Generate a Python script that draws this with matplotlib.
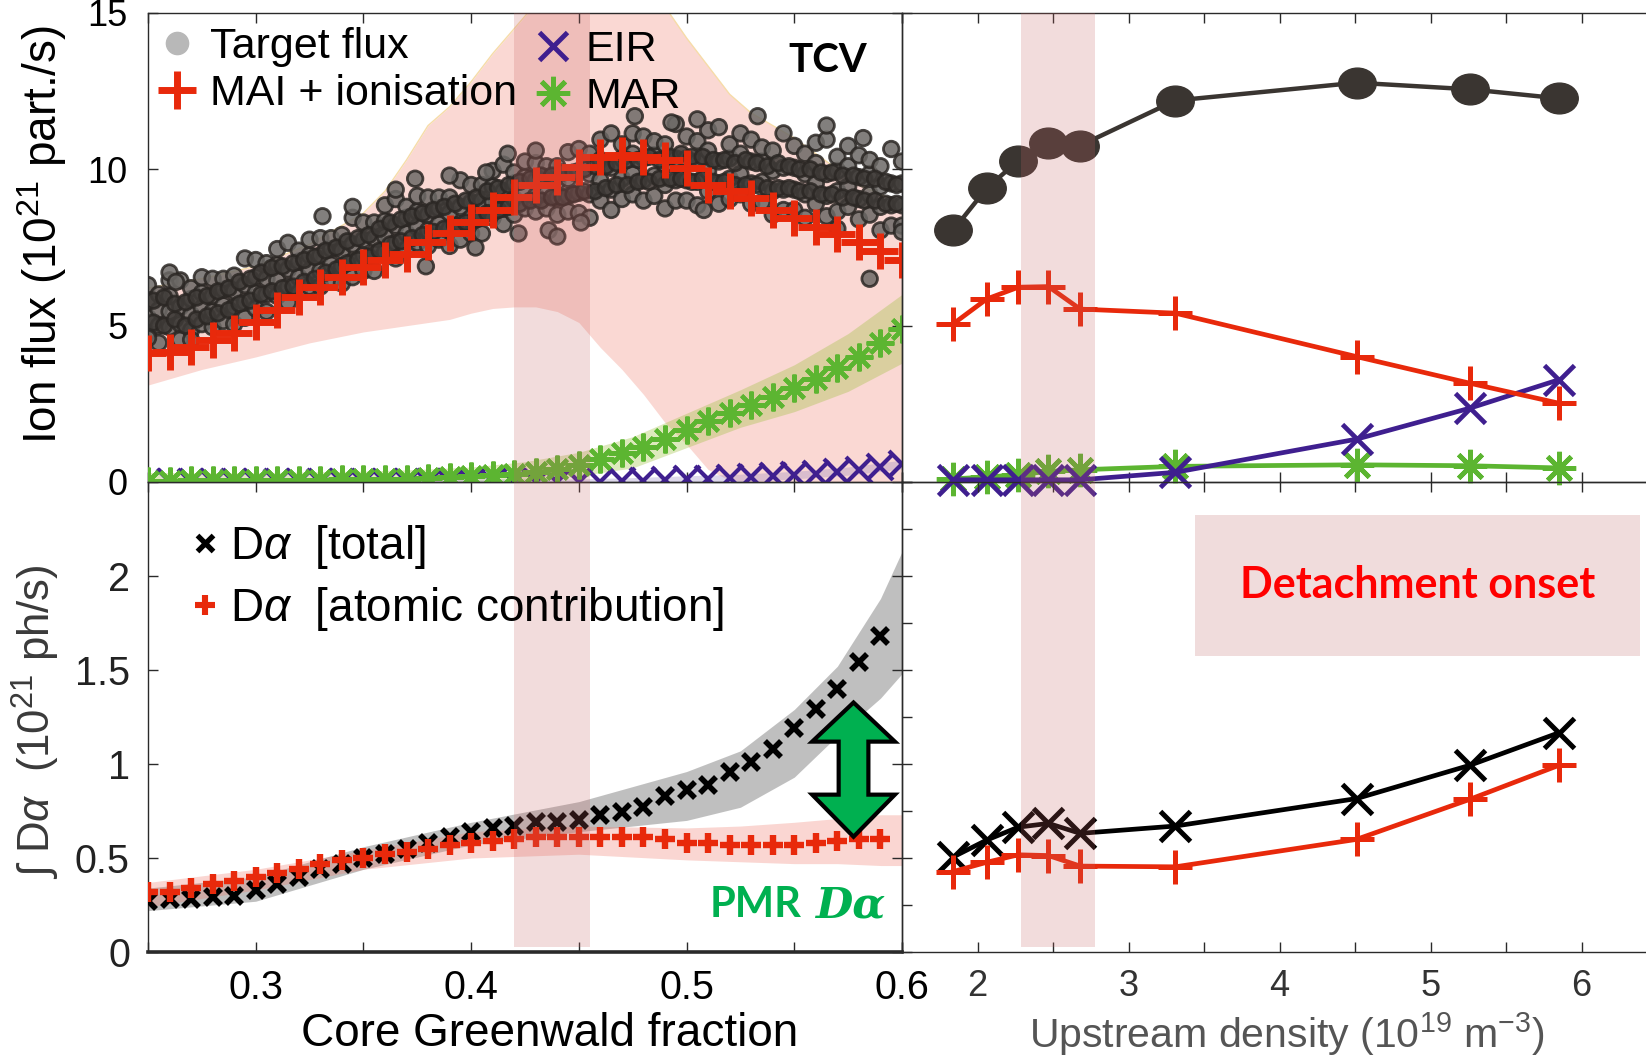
import numpy as np
import matplotlib
matplotlib.use("Agg")
import matplotlib.pyplot as plt
from matplotlib.lines import Line2D
from matplotlib.patches import Polygon, Rectangle
from matplotlib.path import Path
from matplotlib.transforms import Affine2D

plt.rcParams['font.family'] = ['Liberation Sans', 'DejaVu Sans']
plt.rcParams['mathtext.fontset'] = 'custom'
plt.rcParams['mathtext.rm'] = 'Liberation Sans'
plt.rcParams['mathtext.it'] = 'Liberation Sans:italic'
plt.rcParams['mathtext.bf'] = 'Liberation Sans:bold'

# ===== Colores =====
RED = '#e8290b'
PURPLE = '#3f1f8f'
GREEN = '#5cb531'
DARK = '#3a3531'
PMR_GREEN = '#00b050'
BAND = '#c86464'

# ===== Izquierda: barrido en fraccion de Greenwald =====
fgw = np.round(np.arange(0.25, 0.6001, 0.01), 2)

mai_ion = [4.12, 4.17, 4.33, 4.55, 4.76, 5.13, 5.5, 5.93, 6.25, 6.57,
           6.89, 7.1, 7.3, 7.69, 7.96, 8.33, 8.7, 9.13, 9.5, 9.77,
           10.08, 10.4, 10.46, 10.4, 10.3, 10.05, 9.5, 9.3, 9.07, 8.7,
           8.45, 8.17, 7.93, 7.68, 7.4, 7.1]
eir = [0, 0, 0, 0, 0, 0, 0, 0, 0, 0,
       0, 0, 0, 0, 0, 0, 0, 0, 0, 0,
       0, 0, 0.02, 0.04, 0.06, 0.08, 0.1, 0.12, 0.15, 0.18,
       0.22, 0.27, 0.32, 0.39, 0.47, 0.56]
mar = [0.04, 0.04, 0.05, 0.05, 0.05, 0.06, 0.06, 0.07, 0.07, 0.08,
       0.09, 0.10, 0.11, 0.13, 0.15, 0.18, 0.22, 0.27, 0.33, 0.42,
       0.55, 0.72, 0.92, 1.12, 1.38, 1.65, 1.95, 2.2, 2.45, 2.72,
       3.0, 3.3, 3.65, 4.0, 4.45, 4.9]

# banda de incertidumbre MAI + ionisation
mai_band_x = [0.25, 0.275, 0.30, 0.325, 0.35, 0.36, 0.37, 0.38, 0.39, 0.40,
              0.41, 0.42, 0.43, 0.44, 0.45, 0.46, 0.47, 0.48, 0.49, 0.50,
              0.51, 0.52, 0.53, 0.54, 0.55, 0.56, 0.57, 0.58, 0.59, 0.60]
mai_lo = [3.1, 3.6, 4.0, 4.45, 4.8, 4.9, 5.0, 5.1, 5.2, 5.4,
          5.55, 5.6, 5.6, 5.45, 5.1, 4.3, 3.6, 2.8, 1.9, 1.2,
          0.4, 0.05, 0, 0, 0, 0, 0, 0, 0, 0]
mai_hi = [6.2, 6.5, 6.9, 7.6, 8.6, 9.3, 10.3, 11.4, 12.0, 12.8,
          13.7, 14.5, 15.3, 16, 16, 16, 16, 16, 15.2, 14.2,
          13.3, 12.4, 11.8, 11.4, 11.0, 10.5, 10.0, 9.5, 9.2, 8.9]

band_x = [0.25, 0.275, 0.30, 0.325, 0.35, 0.375, 0.40, 0.425,
          0.45, 0.475, 0.50, 0.525, 0.55, 0.575, 0.60]
mar_lo = [-0.2, -0.2, -0.2, -0.2, -0.15, -0.1, -0.05, 0.0,
          0.2, 0.45, 1.1, 1.75, 2.25, 2.9, 3.8]
mar_hi = [0.3, 0.3, 0.3, 0.32, 0.35, 0.4, 0.48, 0.65,
          0.95, 1.45, 2.2, 2.95, 3.75, 4.75, 6.0]
eir_lo = [-0.1, -0.1, -0.1, -0.1, -0.1, -0.1, -0.1, -0.1,
          -0.1, -0.08, -0.04, 0.01, 0.1, 0.22, 0.42]
eir_hi = [0.1, 0.1, 0.1, 0.1, 0.1, 0.1, 0.1, 0.1,
          0.1, 0.14, 0.2, 0.25, 0.34, 0.48, 0.7]

# flujo al blanco (nube de puntos): 4 puntos por columna
fgw_cloud = np.round(np.arange(0.25, 0.6001, 0.005), 4)
target_flux = [
    (4.75, 5.25, 5.75, 6.3), (4.45, 5.0, 5.5, 6.0), (4.95, 5.45, 5.95, 6.45),
    (4.55, 5.05, 5.6, 6.45), (4.85, 5.35, 5.85, 6.2), (5.05, 5.55, 6.05, 6.55),
    (4.95, 5.45, 5.95, 6.5), (5.15, 5.65, 6.15, 6.5), (5.05, 5.6, 6.1, 6.6),
    (5.25, 5.75, 6.3, 7.15), (5.55, 6.05, 6.55, 7.1), (5.45, 6.0, 6.5, 7.0),
    (5.95, 6.45, 6.95, 7.45), (5.75, 6.25, 6.8, 7.65), (6.05, 6.55, 7.05, 7.4),
    (6.25, 6.75, 7.25, 7.75), (6.25, 6.75, 7.25, 7.8), (6.45, 6.95, 7.45, 7.8),
    (6.35, 6.9, 7.4, 7.9), (6.55, 7.05, 7.6, 8.45), (6.75, 7.25, 7.75, 8.3),
    (6.75, 7.3, 7.8, 8.3), (7.35, 7.85, 8.35, 8.85), (7.15, 7.65, 8.2, 9.05),
    (7.45, 7.95, 8.45, 8.8), (7.65, 8.15, 8.65, 9.15), (7.55, 8.05, 8.55, 9.1),
    (7.75, 8.25, 8.75, 9.1), (7.55, 8.1, 8.6, 9.1), (7.75, 8.25, 8.8, 9.65),
    (7.95, 8.45, 8.95, 9.5), (7.95, 8.5, 9.0, 9.5), (8.45, 8.95, 9.45, 9.95),
    (8.25, 8.75, 9.3, 10.15), (8.55, 9.05, 9.55, 9.9), (8.75, 9.25, 9.75, 10.25),
    (8.65, 9.15, 9.65, 10.2), (8.75, 9.25, 9.75, 10.1), (8.55, 9.1, 9.6, 10.1),
    (8.65, 9.15, 9.7, 10.55), (8.6, 9.25, 9.95, 10.65), (8.45, 9.2, 9.85, 10.5),
    (9.0, 9.65, 10.3, 10.95), (8.7, 9.35, 10.05, 11.15), (9.05, 9.7, 10.35, 10.8),
    (9.2, 9.85, 10.5, 11.15), (9.0, 9.65, 10.35, 11.05), (9.15, 9.8, 10.45, 10.9),
    (8.75, 9.5, 10.15, 10.8), (9.0, 9.65, 10.35, 11.45), (9.0, 9.65, 10.35, 11.05),
    (8.85, 9.6, 10.25, 10.9), (9.3, 9.95, 10.6, 11.25), (8.9, 9.55, 10.25, 11.35),
    (9.05, 9.7, 10.35, 10.8), (9.2, 9.85, 10.5, 11.15), (8.9, 9.55, 10.25, 10.95),
    (8.95, 9.6, 10.25, 10.7), (8.55, 9.3, 9.95, 10.6), (8.7, 9.35, 10.05, 11.15),
    (8.7, 9.35, 10.05, 10.75), (8.45, 9.2, 9.85, 10.5), (8.9, 9.55, 10.2, 10.85),
    (8.5, 9.15, 9.85, 10.95), (8.65, 9.3, 9.95, 10.4), (8.8, 9.45, 10.1, 10.75),
    (8.4, 9.05, 9.75, 10.45), (8.55, 9.2, 9.85, 10.3), (8.05, 8.8, 9.45, 10.1),
    (8.2, 8.85, 9.55, 10.65), (8.2, 8.85, 9.55, 10.25),
]
# 2 puntos mas por columna intermedia (nucleo denso)
fgw_cloud_b = np.round(np.arange(0.2525, 0.6, 0.005), 4)
target_flux_b = [
    (5.1, 5.8), (5.0, 5.9), (5.2, 5.7), (5.0, 5.75), (5.2, 5.9),
    (5.3, 5.95), (5.4, 6.1), (5.5, 6.2), (5.7, 6.4), (5.8, 6.5),
    (6.0, 6.7), (6.1, 6.85), (6.2, 6.9), (6.25, 7.0), (6.4, 7.1),
    (6.5, 7.2), (6.7, 7.4), (6.8, 7.5), (7.0, 7.7), (7.1, 7.8),
    (7.2, 7.9), (7.4, 8.1), (7.6, 8.3), (7.7, 8.4), (7.8, 8.5),
    (7.9, 8.6), (8.0, 8.7), (8.1, 8.8), (8.2, 8.9), (8.3, 9.0),
    (8.4, 9.1), (8.6, 9.3), (8.7, 9.4), (8.8, 9.5), (8.9, 9.6),
    (9.0, 9.7), (9.0, 9.8), (9.1, 9.8), (9.1, 9.9), (9.2, 9.9),
    (9.3, 10.0), (9.3, 10.1), (9.4, 10.1), (9.5, 10.2), (9.5, 10.3),
    (9.6, 10.3), (9.6, 10.4), (9.7, 10.3), (9.7, 10.4), (9.7, 10.5),
    (9.6, 10.4), (9.7, 10.4), (9.6, 10.3), (9.6, 10.3), (9.5, 10.2),
    (9.5, 10.3), (9.5, 10.2), (9.4, 10.1), (9.4, 10.2), (9.4, 10.1),
    (9.3, 10.0), (9.3, 10.0), (9.2, 9.9), (9.2, 9.9), (9.1, 9.8),
    (9.1, 9.8), (9.0, 9.7), (9.0, 9.7), (8.9, 9.6), (8.9, 9.5),
]
# puntos aislados
out_fgw = [0.25, 0.26, 0.263, 0.27, 0.331, 0.345, 0.365, 0.374, 0.379, 0.39,
           0.402, 0.407, 0.417, 0.422, 0.43, 0.436, 0.44, 0.451, 0.476, 0.493,
           0.505, 0.508, 0.533, 0.565, 0.57, 0.582, 0.585, 0.6]
out_flux = [4.6, 6.7, 6.4, 4.55, 8.5, 8.8, 9.35, 9.7, 6.9, 9.8,
            7.5, 9.9, 10.5, 7.95, 10.6, 8.05, 7.85, 8.3, 11.7, 11.5,
            11.6, 8.7, 11.7, 11.4, 8.1, 11.0, 6.5, 8.0]

# D-alpha (abajo izquierda)
fgw_da = np.round(np.arange(0.25, 0.5901, 0.01), 2)
da_total = [0.27, 0.28, 0.28, 0.29, 0.30, 0.33, 0.36, 0.40, 0.44, 0.47,
            0.50, 0.52, 0.55, 0.58, 0.61, 0.64, 0.66, 0.67, 0.69, 0.69,
            0.70, 0.73, 0.745, 0.77, 0.83, 0.86, 0.89, 0.96, 1.01, 1.08,
            1.19, 1.29, 1.40, 1.54, 1.68]
da_atomic = [0.32, 0.32, 0.34, 0.36, 0.38, 0.40, 0.42, 0.44, 0.47, 0.49,
             0.50, 0.52, 0.53, 0.55, 0.57, 0.58, 0.59, 0.60, 0.61, 0.61,
             0.61, 0.61, 0.61, 0.61, 0.60, 0.58, 0.58, 0.57, 0.57, 0.57,
             0.57, 0.58, 0.59, 0.60, 0.60]
da_band_x = [0.25, 0.30, 0.35, 0.40, 0.45, 0.50, 0.525, 0.55, 0.57, 0.59, 0.60]
tot_lo = [0.22, 0.27, 0.44, 0.57, 0.64, 0.70, 0.77, 0.93, 1.15, 1.35, 1.48]
tot_hi = [0.34, 0.40, 0.56, 0.69, 0.80, 0.96, 1.07, 1.29, 1.52, 1.88, 2.13]
atom_lo = [0.24, 0.33, 0.44, 0.50, 0.52, 0.49, 0.48, 0.47, 0.47, 0.46, 0.46]
atom_hi = [0.37, 0.44, 0.54, 0.64, 0.67, 0.66, 0.67, 0.69, 0.71, 0.73, 0.73]

# ===== Derecha: densidad aguas arriba =====
ne_up = [1.84, 2.06, 2.27, 2.47, 2.68, 3.31, 4.51, 5.26, 5.85]
tgt_r = [8.06, 9.39, 10.28, 10.83, 10.76, 12.2, 12.77, 12.56, 12.27]
mai_r = [5.06, 5.85, 6.23, 6.25, 5.53, 5.4, 4.01, 3.16, 2.52]
eir_r = [0.07, 0.07, 0.07, 0.07, 0.07, 0.31, 1.37, 2.36, 3.27]
mar_r = [0.1, 0.16, 0.23, 0.34, 0.39, 0.5, 0.55, 0.52, 0.45]
da_total_r = [0.506, 0.595, 0.664, 0.684, 0.631, 0.67, 0.816, 0.993, 1.166]
da_atomic_r = [0.428, 0.477, 0.517, 0.513, 0.457, 0.453, 0.599, 0.812, 0.993]

onset_l = (0.42, 0.455)
onset_r = (2.29, 2.78)

# ===== Figura =====
W, H = 1646, 1057
fig = plt.figure(figsize=(W / 100, H / 100), dpi=100)


def box(x0, y0, x1, y1):
    return [x0 / W, 1 - y1 / H, (x1 - x0) / W, (y1 - y0) / H]


ax_tl = fig.add_axes(box(148, 13, 902, 482))
ax_bl = fig.add_axes(box(148, 482, 902, 952))
ax_tr = fig.add_axes(box(902, 13, 1657, 482))
ax_br = fig.add_axes(box(902, 482, 1657, 952))

for ax in (ax_tl, ax_bl, ax_tr, ax_br):
    ax.set_facecolor('none')
    for s in ax.spines.values():
        s.set_color('#2a2a2a')
        s.set_linewidth(1.0)
    ax.tick_params(direction='in', length=7, width=1, color='#2a2a2a',
                   top=True, right=ax in (ax_tl, ax_bl))
for ax in (ax_tr, ax_br):
    ax.spines['right'].set_visible(False)

asterisk = (8, 2, 0)
ellipse = Path.unit_circle().transformed(Affine2D().scale(1.0, 0.82))

# ----- arriba izquierda -----
ax = ax_tl
ax.fill_between(mai_band_x, mai_lo, mai_hi, color='#ef8070', alpha=0.3,
                lw=0, zorder=1)
ax.plot(mai_band_x, mai_hi, color='#f6dca8', lw=1, zorder=1)
ax.fill_between(band_x, mar_lo, mar_hi, color='#a0c040', alpha=0.35, lw=0, zorder=1)
ax.fill_between(band_x, eir_lo, eir_hi, color='#9080c0', alpha=0.3, lw=0, zorder=1)
cloud_x = np.concatenate([np.repeat(fgw_cloud, 4), out_fgw, np.repeat(fgw_cloud_b, 2)])
cloud_y = np.concatenate([np.ravel(target_flux), out_flux, np.ravel(target_flux_b)])
n_light = len(fgw_cloud) * 4 + len(out_fgw)
cloud_c = ['#6c6966'] * n_light + ['#3e3a37'] * (len(cloud_x) - n_light)
ax.scatter(cloud_x, cloud_y, s=125, c=cloud_c, edgecolors='#2b2724',
           linewidths=2.0, alpha=0.85, zorder=2)
ax.plot(fgw, eir, ls='none', marker='x', ms=19, mew=3, color=PURPLE, zorder=3)
ax.plot(fgw, mar, ls='none', marker=asterisk, ms=20, mew=3, color=GREEN, zorder=3)
ax.plot(fgw, mai_ion, ls='none', marker='+', ms=26, mew=5, color=RED, zorder=3)
ax.axvspan(*onset_l, color=BAND, alpha=0.22, lw=0, zorder=4)
ax.set_xlim(0.25, 0.6)
ax.set_ylim(0, 15)
ax.set_xticks(np.arange(0.25, 0.6001, 0.05))
ax.set_xticklabels([])
ax.set_yticks([0, 5, 10, 15])
ax.tick_params(axis='y', labelsize=26, pad=15)
ax.set_ylabel('Ion flux (10$^{21}$ part./s)', fontsize=33)
ax.yaxis.set_label_coords(-0.141, 0.527)
ax.yaxis.label.set(va='center', rotation_mode='anchor')

leg1 = ax.legend(
    handles=[Line2D([], [], ls='none', marker='o', ms=16, mfc='#b8b8b8', mec='#b8b8b8'),
             Line2D([], [], ls='none', marker='+', ms=28, mew=5, color=RED)],
    labels=['Target flux', 'MAI + ionisation'], loc='upper left',
    bbox_to_anchor=(0.012, 0.970), frameon=False, fontsize=31, handlelength=0.95,
    handletextpad=0.27, labelspacing=0.16, borderpad=0, borderaxespad=0)
leg1.set_zorder(6)
ax.add_artist(leg1)
leg2 = ax.legend(
    handles=[Line2D([], [], ls='none', marker='x', ms=20, mew=3.5, color=PURPLE),
             Line2D([], [], ls='none', marker=asterisk, ms=24, mew=3.5, color=GREEN)],
    labels=['EIR', 'MAR'], loc='upper left',
    bbox_to_anchor=(0.51, 0.963), frameon=False, fontsize=31, handlelength=0.95,
    handletextpad=0.27, labelspacing=0.16, borderpad=0, borderaxespad=0)
leg2.set_zorder(6)
ax.text(0.902, 0.898, 'TCV', transform=ax.transAxes, ha='center', va='center',
        fontsize=29, fontweight='bold', family='Lato', zorder=7)

# ----- abajo izquierda -----
ax = ax_bl
ax.fill_between(da_band_x, tot_lo, tot_hi, color='#8c8c8c', alpha=0.55, lw=0, zorder=1)
ax.fill_between(da_band_x, atom_lo, atom_hi, color='#ef7a6a', alpha=0.3, lw=0, zorder=1)
ax.plot(fgw_da, da_total, ls='none', marker='x', ms=12, mew=4, color='black', zorder=3)
ax.plot(fgw_da, da_atomic, ls='none', marker='+', ms=15, mew=4.6, color=RED, zorder=3)
ax.axvspan(*onset_l, ymin=0.01, color=BAND, alpha=0.22, lw=0, zorder=4)
ax.set_xlim(0.25, 0.6)
ax.set_ylim(0, 2.5)
ax.spines['bottom'].set_linewidth(2.6)
ax.set_xticks(np.arange(0.25, 0.6001, 0.05))
ax.set_xticklabels(['', '0.3', '', '0.4', '', '0.5', '', '0.6'])
ax.set_yticks([0, 0.5, 1, 1.5, 2])
ax.set_yticklabels(['0', '0.5', '1', '1.5', '2'])
ax.tick_params(axis='both', labelsize=28.5)
ax.tick_params(axis='y', pad=13, labelcolor='#222222')
ax.tick_params(axis='x', pad=12)
ax.set_xlabel('Core Greenwald fraction', fontsize=33)
ax.xaxis.set_label_coords(0.532, -0.174)
ax.xaxis.label.set(va='center')
ax.set_ylabel('\u222b D$\\alpha$  (10$^{21}$ ph/s)', fontsize=31.5, color='#3a3a3a')
ax.yaxis.set_label_coords(-0.149, 0.49)
ax.yaxis.label.set(va='center', rotation_mode='anchor')
leg3 = ax.legend(
    handles=[Line2D([], [], ls='none', marker='x', ms=11, mew=3.8, color='black'),
             Line2D([], [], ls='none', marker='+', ms=14, mew=4.4, color=RED)],
    labels=['D$\\alpha$  [total]', 'D$\\alpha$  [atomic contribution]'],
    loc='upper left', bbox_to_anchor=(0.059, 0.912), frameon=False, fontsize=33,
    handlelength=0.55, handletextpad=0.27, labelspacing=0.3, borderpad=0,
    borderaxespad=0)
leg3.set_zorder(6)

# flecha PMR
ax_x, hw, sw = 0.5775, 0.0192, 0.0069
tip_t, base_t, base_b, tip_b = 1.327, 1.119, 0.837, 0.613
arrow = Polygon([(ax_x, tip_t), (ax_x + hw, base_t), (ax_x + sw, base_t),
                 (ax_x + sw, base_b), (ax_x + hw, base_b), (ax_x, tip_b),
                 (ax_x - hw, base_b), (ax_x - sw, base_b), (ax_x - sw, base_t),
                 (ax_x - hw, base_t)], closed=True, facecolor=PMR_GREEN,
                edgecolor='black', lw=3, joinstyle='miter', zorder=6)
ax.add_patch(arrow)
ax.text(0.5105, 0.187, 'PMR', color=PMR_GREEN, fontsize=30, fontweight='bold',
        family='Lato', ha='left', va='baseline', zorder=7)
ax.text(0.5595, 0.187, 'D\u03b1', color=PMR_GREEN, fontsize=31, fontweight='bold',
        style='italic', family='DejaVu Serif', ha='left', va='baseline', zorder=7)

# ----- arriba derecha -----
ax = ax_tr
ax.plot(ne_up, mar_r, '-', color=GREEN, lw=3.4, marker=asterisk, ms=24, mew=3.4,
        clip_on=False, zorder=3)
ax.plot(ne_up, eir_r, '-', color=PURPLE, lw=3.4, marker='x', ms=21, mew=3.4,
        clip_on=False, zorder=3)
ax.plot(ne_up, mai_r, '-', color=RED, lw=3.4, marker='+', ms=24, mew=3.6,
        clip_on=False, zorder=3)
ax.plot(ne_up, tgt_r, '-', color=DARK, lw=3.2, marker=ellipse, ms=27, mfc=DARK,
        mec=DARK, clip_on=False, zorder=3)
ax.axvspan(*onset_r, color=BAND, alpha=0.22, lw=0, zorder=4)
ax.set_xlim(1.5, 6.5)
ax.set_ylim(0, 15)
ax.set_xticks(np.arange(1.5, 6.51, 0.5))
ax.set_xticklabels([])
ax.set_yticks([0, 5, 10, 15])
ax.set_yticklabels([])

# ----- abajo derecha -----
ax = ax_br
ax.add_patch(Rectangle((3.44, 1.573), 2.95, 0.754, facecolor='#f0dcdc',
                       edgecolor='none', zorder=1))
ax.text(4.915, 1.95, 'Detachment onset', color='#ff0000', fontsize=31,
        fontweight='bold', family='Lato', ha='center', va='center', zorder=2)
ax.plot(ne_up, da_total_r, '-', color='black', lw=3.4, marker='x', ms=22, mew=3.6,
        zorder=3)
ax.plot(ne_up, da_atomic_r, '-', color=RED, lw=3.4, marker='+', ms=25, mew=3.6,
        zorder=3)
ax.axvspan(*onset_r, ymin=0.01, color=BAND, alpha=0.22, lw=0, zorder=4)
ax.set_xlim(1.5, 6.5)
ax.set_ylim(0, 2.5)
ax.set_xticks(np.arange(1.5, 6.51, 0.5))
ax.set_xticklabels(['', '2', '', '3', '', '4', '', '5', '', '6', ''])
ax.set_yticks(np.arange(0, 2.51, 0.25))
ax.set_yticklabels([])
ax.tick_params(axis='x', labelsize=26, pad=12, labelcolor='#333333')
ax.set_xlabel('Upstream density (10$^{19}$ m$^{-3}$)', fontsize=29.5, color='#555555')
ax.xaxis.set_label_coords(0.51, -0.174)
ax.xaxis.label.set(va='center')

fig.savefig('out.png', dpi=100)
